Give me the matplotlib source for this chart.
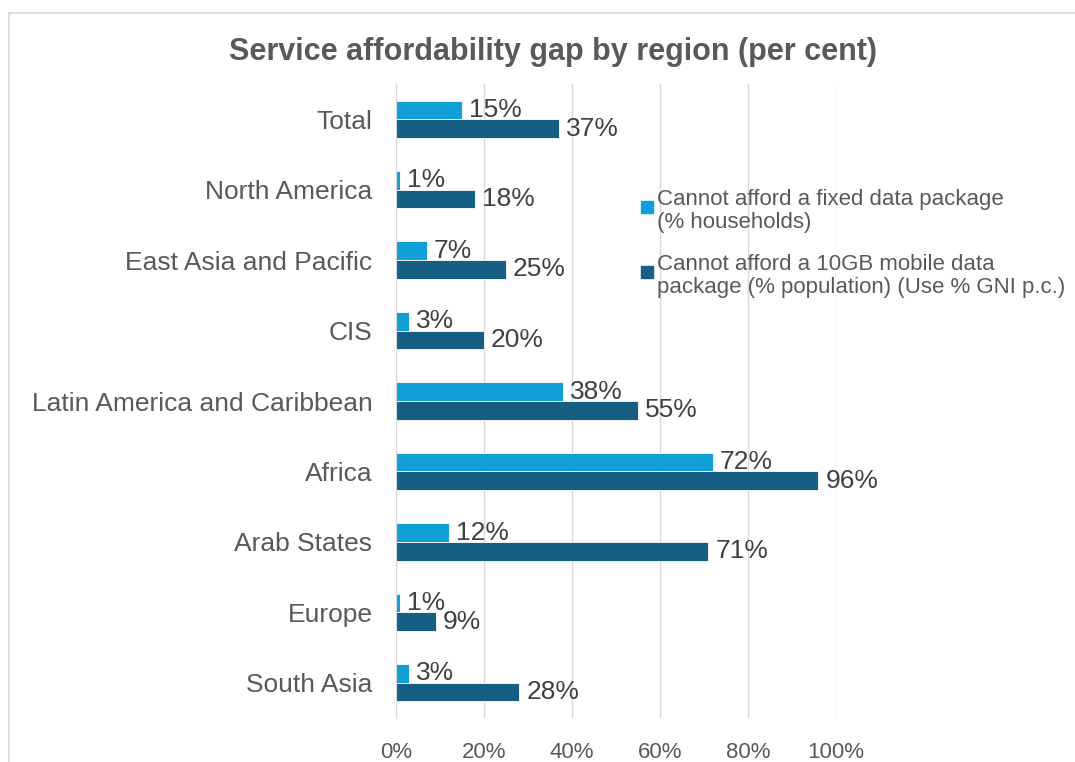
import matplotlib
matplotlib.use('Agg')
import matplotlib.pyplot as plt
from matplotlib.lines import Line2D
from matplotlib.patches import Rectangle
from matplotlib.ticker import PercentFormatter
import numpy as np

plt.rcParams['font.family'] = ['Liberation Sans', 'DejaVu Sans']

# data
regions = ['Total', 'North America', 'East Asia and Pacific', 'CIS',
           'Latin America and Caribbean', 'Africa', 'Arab States', 'Europe',
           'South Asia']
fixed = [15, 1, 7, 3, 38, 72, 12, 1, 3]
mobile = [37, 18, 25, 20, 55, 96, 71, 9, 28]
series_names = ['Cannot afford a fixed data package\n(% households)',
                'Cannot afford a 10GB mobile data\npackage (% population) (Use % GNI p.c.)']

c_light = '#119fd7'
c_dark = '#165f82'
grey = '#595959'
W, H = 1075, 762

fig = plt.figure(figsize=(W/100, H/100), dpi=100)
ax = fig.add_axes([396/W, 1-718/H, 440/W, 634/H])

y = np.arange(len(regions))
h = 0.265
b1 = ax.barh(y - h/2, fixed, height=h, color=c_light, edgecolor='white', linewidth=0.6)
b2 = ax.barh(y + h/2, mobile, height=h, color=c_dark, edgecolor='white', linewidth=0.6)

ax.bar_label(b1, labels=[f'{v}%' for v in fixed], padding=5, fontsize=19, color='#404040')
ax.bar_label(b2, labels=[f'{v}%' for v in mobile], padding=5, fontsize=19, color='#404040')

ax.set_ylim(len(regions) - 0.5, -0.5)
ax.set_xlim(0, 100)
ax.set_xticks(np.arange(0, 101, 20))
ax.xaxis.set_major_formatter(PercentFormatter(decimals=0))
ax.set_yticks(y)
ax.set_yticklabels(regions)
ax.tick_params(axis='y', length=0, pad=17, labelsize=19, labelcolor=grey)
ax.tick_params(axis='x', length=0, pad=17, labelsize=16, labelcolor=grey)

ax.grid(axis='x', color='#d9d9d9', linewidth=1)
ax.set_axisbelow(True)
for s in ['top', 'right', 'bottom']:
    ax.spines[s].set_visible(False)
ax.spines['left'].set_color('#d9d9d9')

fig.text(553/W, 1-52/H, 'Service affordability gap by region (per cent)',
         ha='center', va='center', fontsize=22, fontweight='bold', color=grey)

# legend: square aligned with the first line of each two-line label
for i, (name, col) in enumerate(zip(series_names, [c_light, c_dark])):
    ytop = 189 + i * 65
    fig.add_artist(Rectangle((641/W, 1-(ytop+24)/H), 12/W, 12/H, color=col,
                             transform=fig.transFigure))
    fig.text(657/W, 1-ytop/H, name, ha='left', va='top', fontsize=16,
             color=grey, linespacing=1.1)

# chart border (cropped on right and bottom)
fig.add_artist(Line2D([9/W, 9/W], [0, 1-13/H], color='#d9d9d9', linewidth=1.2))
fig.add_artist(Line2D([9/W, 1], [1-13/H, 1-13/H], color='#d9d9d9', linewidth=1.2))

fig.savefig('out.png', dpi=100)
